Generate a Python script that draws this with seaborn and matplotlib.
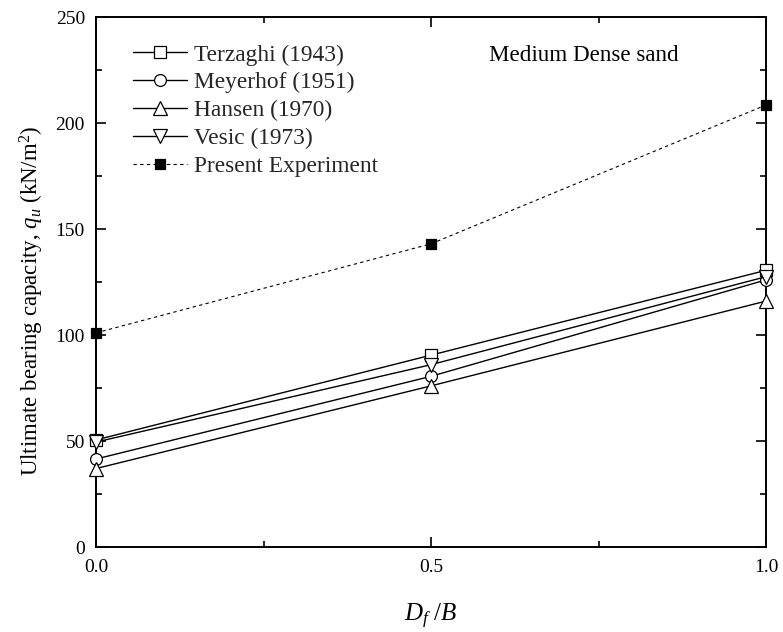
import numpy as np
import pandas as pd
import seaborn as sns
import matplotlib
matplotlib.use("Agg")
import matplotlib.pyplot as plt
from matplotlib.ticker import MultipleLocator, FormatStrFormatter

df_b = [0.0, 0.5, 1.0]
terzaghi = [50.5, 90.5, 130.5]
meyerhof = [41.5, 80.5, 126.0]
hansen = [37.0, 76.0, 116.0]
vesic = [49.5, 86.0, 127.5]
experiment = [101.0, 143.0, 208.5]

series_names = ["Terzaghi (1943)", "Meyerhof (1951)", "Hansen (1970)", "Vesic (1973)", "Present Experiment"]

sns.set_theme(style="ticks")
plt.rcParams['font.family'] = ['Liberation Serif', 'DejaVu Serif']
plt.rcParams['mathtext.fontset'] = 'custom'
plt.rcParams['mathtext.rm'] = 'Liberation Serif'
plt.rcParams['mathtext.it'] = 'Liberation Serif:italic'

fig = plt.figure(figsize=(7.83, 6.32), dpi=100)
ax = fig.add_axes([96 / 783, (632 - 547) / 632, (766 - 96) / 783, (547 - 17) / 632])

data = pd.DataFrame({
    "x": df_b * 5,
    "y": terzaghi + meyerhof + hansen + vesic + experiment,
    "series": sum([[n] * 3 for n in series_names], []),
})

styles = {
    "Terzaghi (1943)": dict(marker="s", mfc="white", ls="-", ms=8),
    "Meyerhof (1951)": dict(marker="o", mfc="white", ls="-", ms=8.5),
    "Hansen (1970)": dict(marker="^", mfc="white", ls="-", ms=9.5),
    "Vesic (1973)": dict(marker="v", mfc="white", ls="-", ms=9.5),
    "Present Experiment": dict(marker="s", mfc="black", ls=(0, (3, 3)), ms=7),
}

for name in series_names:
    st = styles[name]
    sub = data[data["series"] == name]
    sns.lineplot(data=sub, x="x", y="y", ax=ax, color="black", lw=1.0 if st["mfc"] == "white" else 0.8,
                 linestyle=st["ls"], marker=st["marker"], markersize=st["ms"],
                 markerfacecolor=st["mfc"], markeredgecolor="black", markeredgewidth=0.9,
                 label=name, clip_on=False, zorder=3)

ax.set_xlim(0, 1.0)
ax.set_ylim(0, 250)
ax.xaxis.set_major_locator(MultipleLocator(0.5))
ax.xaxis.set_minor_locator(MultipleLocator(0.25))
ax.yaxis.set_major_locator(MultipleLocator(50))
ax.yaxis.set_minor_locator(MultipleLocator(25))
ax.xaxis.set_major_formatter(FormatStrFormatter('%.1f'))
ax.tick_params(which="both", direction="in", top=True, right=True, labelsize=14, colors="black", width=1.2)
ax.tick_params(which="major", length=7)
ax.tick_params(axis="y", which="major", pad=8)
ax.tick_params(axis="x", which="major", pad=9)
ax.tick_params(which="minor", length=4)
for s in ax.spines.values():
    s.set_linewidth(1.4)
    s.set_color("black")

ax.set_xlabel(r"$D_f\ /B$", fontsize=18, color="black")
ax.xaxis.set_label_coords(0.5, -0.104)
ax.set_ylabel("Ultimate bearing capacity, $q_u$ (kN/m$^2$)", fontsize=16.5, color="black")
ax.yaxis.set_label_coords(-0.075, 0.464)

ax.text(0.587, 0.917, "Medium Dense sand", transform=ax.transAxes, fontsize=16.6, color="black")

leg = ax.legend(loc="upper left", bbox_to_anchor=(0.035, 0.975), frameon=False, fontsize=16.8,
                handlelength=2.3, handletextpad=0.3, labelspacing=0.28, borderaxespad=0.2)

fig.savefig("out.png", dpi=100)
